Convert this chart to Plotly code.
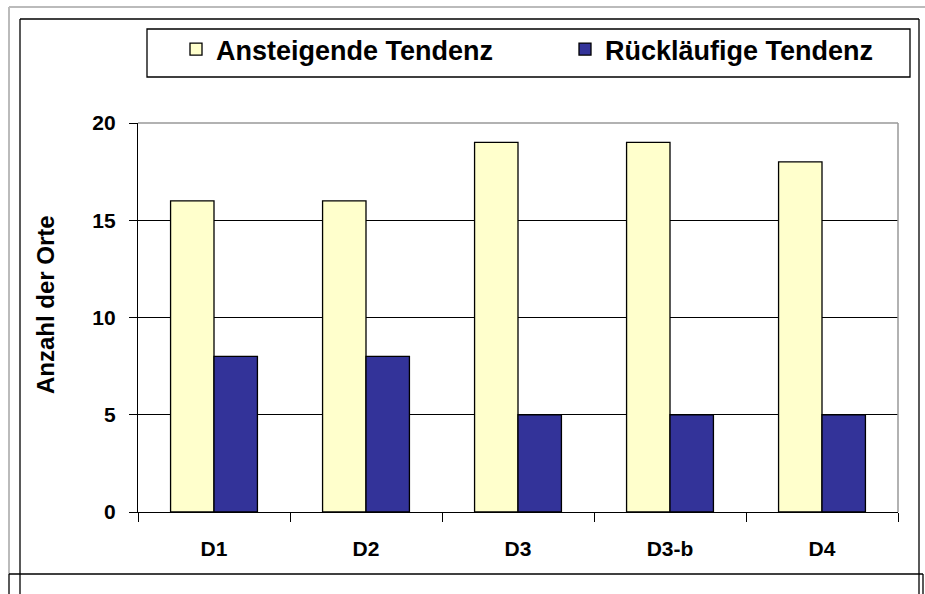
import plotly.graph_objects as go

categories = ["D1", "D2", "D3", "D3-b", "D4"]
ansteigend = [16, 16, 19, 19, 18]
ruecklaeufig = [8, 8, 5, 5, 5]
series_names = ["Ansteigende Tendenz", "Rückläufige Tendenz"]
y_ticks = [0, 5, 10, 15, 20]
y_title = "Anzahl der Orte"

W, H = 925, 594
L, R, T, B = 138, 898, 123, 512
FONT = "Liberation Sans, Arial, sans-serif"


def px(x):
    return (x - L) / (R - L)


def py(y):
    return (B - y) / (B - T)


fig = go.Figure()
fig.add_trace(go.Bar(
    x=categories, y=ansteigend, name=series_names[0], legend="legend",
    marker=dict(color="#FFFFCC", line=dict(color="black", width=1.3)),
))
fig.add_trace(go.Bar(
    x=categories, y=ruecklaeufig, name=series_names[1], legend="legend2",
    marker=dict(color="#333399", line=dict(color="black", width=1.3)),
))


def line(x0, y0, x1, y1, color, width=1):
    return dict(type="line", xref="paper", yref="paper",
                x0=px(x0), y0=py(y0), x1=px(x1), y1=py(y1),
                line=dict(color=color, width=width), layer="above")


shapes = [
    # outer page frames
    line(9, 7, 925, 7, "#BBBBBB", 2),
    line(9, 7, 9, 574, "#BBBBBB", 2),
    line(20, 19, 919, 19, "black", 1.3),
    line(20, 19, 20, 594, "black", 1.3),
    line(919, 19, 919, 594, "black", 1.3),
    line(9, 574, 923, 574, "black", 1.3),
    line(9, 574, 9, 594, "black", 1.3),
    line(923, 574, 923, 594, "black", 1.3),
    # plot area border (top/right gray)
    line(L, T, R, T, "#999999", 1.5),
    line(R, T, R, B, "#999999", 1.5),
    # legend box
    dict(type="rect", xref="paper", yref="paper",
         x0=px(147), y0=py(77), x1=px(910), y1=py(29),
         line=dict(color="black", width=1.3), fillcolor="rgba(0,0,0,0)",
         layer="above"),
]

legend_common = dict(
    orientation="h", xanchor="left", yanchor="top",
    bgcolor="rgba(0,0,0,0)", borderwidth=0,
    font=dict(family=FONT, size=27, color="black", weight="bold"),
    itemwidth=30, valign="middle",
)

fig.update_layout(
    width=W, height=H,
    margin=dict(l=L, r=W - R, t=T, b=H - B, pad=0, autoexpand=False),
    paper_bgcolor="white", plot_bgcolor="white",
    barmode="group", bargap=0.4286, bargroupgap=0,
    font=dict(family=FONT, color="black", size=20, weight="bold"),
    showlegend=True,
    legend=dict(x=px(176), y=py(25), **legend_common),
    legend2=dict(x=px(565), y=py(25), **legend_common),
    shapes=shapes,
    annotations=[dict(
        text=y_title, xref="paper", yref="paper", x=px(45), y=py(305),
        textangle=-90, showarrow=False, xanchor="center", yanchor="middle",
        font=dict(family=FONT, size=24, color="black", weight="bold"),
    )],
    xaxis=dict(
        type="category", showline=True, linecolor="black", linewidth=1.3,
        ticks="outside", tickson="boundaries", ticklen=9, tickcolor="black",
        tickwidth=1, showgrid=False, ticklabelstandoff=18, automargin=False,
        tickfont=dict(family=FONT, size=21, color="black", weight="bold"),
        fixedrange=True,
    ),
    yaxis=dict(
        range=[0, 20], tickvals=y_ticks, showgrid=True, gridcolor="black",
        gridwidth=1, showline=True, linecolor="black", linewidth=1.3,
        ticks="outside", ticklen=8, tickcolor="black", tickwidth=1,
        zeroline=False, ticklabelstandoff=9, automargin=False,
        tickfont=dict(family=FONT, size=21, color="black", weight="bold"),
        fixedrange=True,
    ),
)

fig.write_html("out.html", config={"displayModeBar": False},
               post_script="document.body.style.margin='0px';")
